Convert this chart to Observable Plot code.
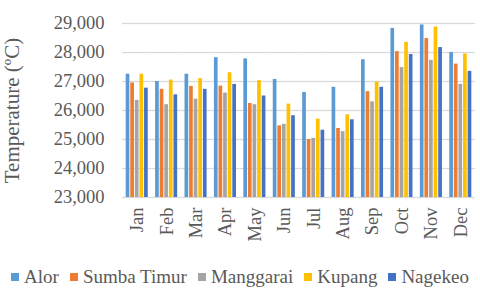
<!DOCTYPE html>
<html><head><meta charset="utf-8">
<script src="https://cdn.jsdelivr.net/npm/d3@7"></script>
<script src="https://cdn.jsdelivr.net/npm/@observablehq/plot@0.6"></script>
<style>
body{margin:0;background:#fff;width:480px;height:293px;overflow:hidden;position:relative;font-family:"Liberation Serif","Times New Roman",serif;}
#legend{position:absolute;left:0;top:266px;width:480px;height:22px;display:flex;justify-content:center;align-items:center;gap:11px;font-family:"Liberation Serif",serif;font-size:19px;color:#595959;}
.item{display:flex;align-items:center;gap:5px;white-space:nowrap}
.sw{width:8px;height:8px;display:inline-block}
</style></head><body><div id="chart"></div><div id="legend"></div>
<script>
const months = ["Jan","Feb","Mar","Apr","May","Jun","Jul","Aug","Sep","Oct","Nov","Dec"];
const regions = ["Alor","Sumba Timur","Manggarai","Kupang","Nagekeo"];
const colors = ["#5B9BD5","#ED7D31","#A5A5A5","#FFC000","#4472C4"];
const alor       = [27250, 27000, 27250, 27820, 27780, 27070, 26620, 26800, 27750, 28830, 28950, 28000];
const sumbaTimur = [26950, 26730, 26830, 26840, 26240, 25470, 25000, 25380, 26650, 28030, 28480, 27600];
const manggarai  = [26350, 26200, 26390, 26600, 26200, 25520, 25040, 25270, 26300, 27480, 27730, 26900];
const kupang     = [27250, 27050, 27100, 27300, 27030, 26220, 25700, 25850, 26980, 28350, 28880, 27950];
const nagekeo    = [26770, 26540, 26730, 26900, 26500, 25820, 25320, 25680, 26800, 27930, 28170, 27350];
const yTicks = [23000, 24000, 25000, 26000, 27000, 28000, 29000];
const yMin = 23000, yMax = 29000;

const series = [alor, sumbaTimur, manggarai, kupang, nagekeo];
const data = months.flatMap((m, i) => regions.map((r, j) => ({month: m, region: r, value: series[j][i]})));

const chart = Plot.plot({
  width: 480, height: 258,
  marginLeft: 122, marginRight: 5, marginTop: 23, marginBottom: 61,
  style: {fontFamily: "'Liberation Serif', 'Times New Roman', serif", fontSize: "18.5px", color: "#595959", background: "#fff", overflow: "visible"},
  fx: {domain: months, paddingInner: 0, paddingOuter: 0, round: false, label: null, tickSize: 0, tickPadding: 10, tickRotate: -90},
  x: {domain: regions, axis: null, paddingInner: 0.2, paddingOuter: 0.8, round: false},
  y: {domain: [yMin, yMax], ticks: yTicks, tickFormat: d3.format(","), tickSize: 0, tickPadding: 18,
      label: "Temperature (ºC)", labelAnchor: "center", labelOffset: 118, labelArrow: "none"},
  color: {domain: regions, range: colors},
  marks: [
    Plot.ruleY(yTicks, {stroke: "#d9d9d9", strokeWidth: 1.3}),
    Plot.barY(data, {fx: "month", x: "region", y1: yMin, y2: "value", fill: "region"})
  ]
});
document.getElementById("chart").appendChild(chart);
const lab = chart.querySelector('[aria-label="y-axis label"] text') || chart.querySelector('[aria-label="y-axis label"]');
if (lab) { lab.style.fontSize = "21px"; }

const legend = document.getElementById("legend");
regions.forEach((r, i) => {
  const it = document.createElement("span"); it.className = "item";
  const sw = document.createElement("span"); sw.className = "sw"; sw.style.background = colors[i];
  const t = document.createElement("span"); t.textContent = r;
  it.appendChild(sw); it.appendChild(t); legend.appendChild(it);
});
</script></body></html>
